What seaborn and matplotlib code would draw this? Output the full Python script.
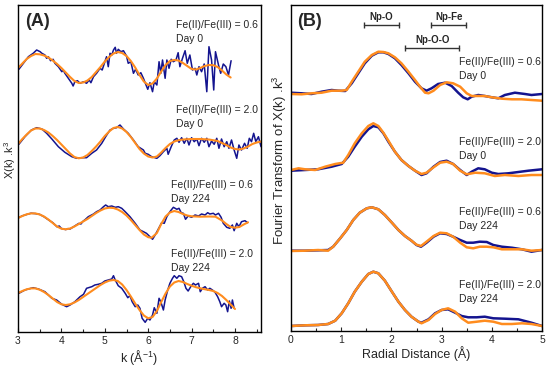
import numpy as np
import pandas as pd
import matplotlib
matplotlib.use("Agg")
import matplotlib.pyplot as plt
import seaborn as sns

sns.set_theme(style="ticks")
plt.rcParams['font.family'] = ['Liberation Sans', 'DejaVu Sans']
plt.rcParams['mathtext.fontset'] = 'custom'
plt.rcParams['mathtext.rm'] = 'Liberation Sans'

BLUE = "#14148f"
ORANGE = "#ff8c1e"

# ---------------- Panel A: k^3-weighted EXAFS (values relative to each trace baseline) ----
labels = ["Fe(II)/Fe(III) = 0.6\nDay 0", "Fe(II)/Fe(III) = 2.0\nDay 0",
          "Fe(II)/Fe(III) = 0.6\nDay 224", "Fe(II)/Fe(III) = 2.0\nDay 224"]
offsets_A = [264, 188, 114, 39]

# data (blue) traces
kA1 = [3.02, 3.24, 3.35, 3.43, 3.51, 3.55, 3.62, 3.66, 3.70, 3.75, 3.81, 3.85, 3.93, 4.01, 4.04, 4.08, 4.16, 4.24,
       4.27, 4.31, 4.37, 4.43, 4.51, 4.58, 4.64, 4.68, 4.74, 4.81, 4.89, 4.94, 4.99, 5.04, 5.08, 5.12, 5.16, 5.20,
       5.24, 5.27, 5.31, 5.37, 5.43, 5.50, 5.54, 5.60, 5.66, 5.71, 5.77, 5.83, 5.89, 5.95, 5.99, 6.04, 6.10, 6.14,
       6.20, 6.25, 6.29, 6.33, 6.39, 6.43, 6.48, 6.53, 6.58, 6.64, 6.69, 6.73, 6.79, 6.85, 6.90, 6.96, 7.02, 7.08,
       7.12, 7.17, 7.23, 7.29, 7.35, 7.40, 7.46, 7.51, 7.55, 7.62, 7.67, 7.73, 7.79, 7.85, 7.91]
yA1 = [-1.3, 11.3, 14.7, 18, 16.3, 14.7, 13, 9.7, 11.3, 7.3, 8.7, 4.7, 1.3, -3.7, -2, -5.3, -10.3, -15.3,
       -18, -13.7, -12.7, -15.3, -13.7, -15.3, -12, -14.7, -8.7, -5.3, -0.3, -2, 4.7, 11.3, 1.3, 14.7, 13, 18,
       20.7, 14.7, 18.7, 16.3, 17.3, 12, 4.7, 6.3, -5.3, -1.3, -7, -4.7, -10.3, -17, -21.3, -14.7, -23.7, -13.7,
       -17, 6.3, -5.3, 8, -10.3, 8, -0.3, 8.7, 6.3, 8, 15.3, 1.3, 9.7, 17.3, 4.7, 13, -2, -0.3,
       -7, 1.3, -3.7, 4, -23.7, 21.3, 8, -22, 16.3, 3, -5.3, 4, 1.3, -7, 7.3]

kA2 = [3.02, 3.16, 3.31, 3.43, 3.55, 3.66, 3.78, 3.93, 4.08, 4.24, 4.35, 4.47, 4.58, 4.70, 4.81, 4.93, 5.02, 5.12,
       5.20, 5.27, 5.35, 5.43, 5.54, 5.66, 5.77, 5.89, 5.93, 6.00, 6.08, 6.20, 6.27, 6.35, 6.43, 6.46, 6.53, 6.60,
       6.66, 6.71, 6.77, 6.83, 6.89, 6.94, 7.00, 7.06, 7.12, 7.17, 7.23, 7.29, 7.35, 7.40, 7.46, 7.52, 7.58, 7.63,
       7.69, 7.75, 7.81, 7.86, 7.92, 7.98, 8.04, 8.09, 8.15, 8.22, 8.28, 8.33, 8.38, 8.43, 8.48, 8.54, 8.60]
yA2 = [-0.3, 7.3, 14, 16.3, 15, 10.7, 5, -2.7, -8.3, -12.7, -14.3, -13.7, -13.7, -9.3, -6, 0.7, 7.3, 14,
       15.7, 16.3, 19, 15, 10.7, 4, -2.7, -6, -9.3, -10.3, -12.7, -14.3, -11.7, -7.7, -4.3, -10.3, -2.7, 4,
       5.7, 1.7, 6.3, 0.7, 5.7, -1, 6.3, 2.3, 5, -1.7, 5.7, 1.7, 5.7, -2.7, 3, -0.3, 5.7, -4.3,
       5, -2.7, 2.3, -4.3, 4, -6, -14.3, -1, -6, 0.7, -4.3, 5.7, 2.3, 10.7, 2.3, 7.3, -2.7]

kA3 = [3.0, 3.1, 3.2, 3.3, 3.4, 3.5, 3.6, 3.7, 3.8, 3.9, 3.95, 4.0, 4.1, 4.15, 4.2, 4.3, 4.4, 4.45, 4.5, 4.55,
       4.62, 4.74, 4.81, 4.89, 4.97, 5.02, 5.08, 5.16, 5.24, 5.31, 5.39, 5.47, 5.58, 5.70, 5.81, 5.89, 5.96, 6.04,
       6.10, 6.16, 6.23, 6.31, 6.37, 6.43, 6.50, 6.58, 6.66, 6.71, 6.76, 6.81, 6.86, 6.92, 7.00, 7.08, 7.16, 7.23,
       7.31, 7.37, 7.42, 7.50, 7.55, 7.62, 7.68, 7.73, 7.81, 7.88, 7.94, 7.98, 8.04, 8.09, 8.15, 8.23, 8.29]
yA3 = [0, 2.2, 3.5, 4.8, 4.4, 3.6, 1.2, -1.8, -4.6, -8.8, -8, -10.5, -11.6, -10.6, -11, -8.2, -5.4, -6, -3.2, -1.5,
       1.3, 4, 6.3, 8, 11.3, 13, 11.3, 12, 10.7, 11.3, 9.7, 6.3, 1.3, -5.3, -12, -13.7, -15.3, -18.7,
       -21.3, -17, -11.3, -4.7, -5.3, 1.3, 6.3, 10.7, 8.7, 9.7, 5.3, 4.7, -1.3, 2, 0.7, 3, 2, 4,
       3, 5.3, 4, 4.7, 3, 4.7, 0.7, -5.3, -9.3, -10.3, -7, -12.7, -5.3, -8.7, -3.7, -2.7, -4.7]

kA4 = [3.02, 3.16, 3.35, 3.47, 3.62, 3.78, 3.89, 4.01, 4.12, 4.20, 4.31, 4.43, 4.51, 4.58, 4.70, 4.77, 4.85, 4.93,
       5.00, 5.08, 5.16, 5.20, 5.24, 5.31, 5.39, 5.47, 5.53, 5.58, 5.63, 5.70, 5.76, 5.81, 5.86, 5.93, 5.99, 6.04,
       6.10, 6.14, 6.20, 6.25, 6.29, 6.35, 6.39, 6.45, 6.50, 6.56, 6.60, 6.66, 6.71, 6.77, 6.82, 6.87, 6.92, 6.98,
       7.04, 7.09, 7.16, 7.20, 7.25, 7.31, 7.37, 7.42, 7.48, 7.54, 7.60, 7.65, 7.69, 7.75, 7.79, 7.83, 7.87, 7.91,
       7.94, 7.98]
yA4 = [-0.3, 3, 5.3, 4, 1.3, -5.3, -7, -11.3, -13.7, -12, -8.7, -3.7, -1.3, 4.7, 6.3, 8, 8.7, 9.7,
       12, 13, 14, 17.3, 13, 7.3, 4.7, -0.3, -4.7, -2.7, -8.7, -13.7, -12, -15.3, -25.3, -29.3, -25.3, -27,
       -22, -14.7, -20.3, -5.3, -8.7, -17, -7, 3, 9.7, 14.7, 17.3, 14.7, 17.3, 16.3, 11.3, 4.7, 2, 6.3,
       9.7, 8, 9.7, 1.3, 4.7, 6.3, 3, 4.7, 3, 0.7, -3.7, -8.7, -13.7, -10.3, -12, -18.7, -8, -15.3,
       -7, -15.3]

# fit (orange) traces
kF1 = [3.0, 3.1, 3.2, 3.3, 3.4, 3.5, 3.6, 3.7, 3.8, 3.9, 4.0, 4.1, 4.2, 4.3, 4.4, 4.5, 4.6, 4.7, 4.8, 4.9, 5.0,
       5.1, 5.2, 5.3, 5.4, 5.5, 5.6, 5.7, 5.8, 5.9, 6.0, 6.1, 6.2, 6.3, 6.4, 6.5, 6.6, 6.7, 6.8, 6.9, 7.0, 7.1,
       7.2, 7.3, 7.4, 7.5, 7.6, 7.7, 7.8, 7.9]
yF1 = [0, 4.5, 9, 12, 14, 13.7, 12.5, 10.5, 7.5, 4, 0, -4.5, -9, -13, -15, -14.5, -12.5, -9, -4, 1, 6.5,
       11, 14.5, 16, 15, 12, 7, 0.5, -7, -13.5, -17, -15.5, -10.5, -3.5, 3, 7, 8, 7.5, 5, 2, -1, -1.5,
       0, 2, 3, 2.8, 1, -2.5, -6.5, -9.5]

kF2 = [3.0, 3.1, 3.2, 3.3, 3.4, 3.5, 3.6, 3.7, 3.8, 3.9, 4.0, 4.1, 4.2, 4.3, 4.4, 4.5, 4.6, 4.7, 4.8, 4.9, 5.0,
       5.1, 5.2, 5.3, 5.4, 5.5, 5.6, 5.7, 5.8, 5.9, 6.0, 6.1, 6.2, 6.3, 6.4, 6.5, 6.6, 6.7, 6.8, 7.0, 7.2, 7.4,
       7.6, 7.8, 7.9, 8.0, 8.1, 8.2, 8.3, 8.4, 8.5, 8.6]
yF2 = [0, 5, 9.5, 13.5, 15.5, 15.5, 14, 11.5, 8, 4, -0.5, -5, -9.5, -13, -14.3, -13.5, -11, -7, -2.5, 2.5, 8,
       12.5, 16, 17, 15.5, 12, 7, 1, -5, -9.5, -12.5, -13.5, -12.5, -8.5, -4, 0, 2.5, 3.8, 4.5, 5, 5, 4.5,
       3, -1, -3.5, -5, -5.5, -4.5, -2.5, 0, 1.5, 2.5]

kF3 = [3.0, 3.1, 3.2, 3.3, 3.4, 3.5, 3.6, 3.7, 3.8, 3.9, 4.0, 4.1, 4.2, 4.3, 4.4, 4.5, 4.6, 4.7, 4.8, 4.9, 5.0,
       5.1, 5.2, 5.3, 5.4, 5.5, 5.6, 5.7, 5.8, 5.9, 6.0, 6.08, 6.2, 6.3, 6.4, 6.5, 6.6, 6.7, 6.8, 6.9, 7.0, 7.2,
       7.4, 7.55, 7.7, 7.8, 7.9, 8.0, 8.1, 8.2, 8.3]
yF3 = [0, 2, 3.7, 4.6, 4.6, 3.5, 1.5, -1.5, -5, -8.5, -10.7, -11.3, -10.5, -8.5, -6, -3.5, -1, 2, 5, 7.5, 9.5,
       10.3, 10, 8.5, 6, 2.5, -2, -7, -12, -16.5, -19.2, -19.7, -15, -6, 1.5, 5.5, 7, 6, 4, 2.5, 1.7, 1.3,
       1.5, 1.3, -2.5, -6, -9, -9.7, -9, -6.5, -4.3]

kF4 = [3.0, 3.1, 3.2, 3.3, 3.4, 3.5, 3.6, 3.7, 3.8, 3.9, 4.0, 4.1, 4.2, 4.3, 4.4, 4.5, 4.6, 4.7, 4.8, 4.9, 5.0,
       5.1, 5.2, 5.3, 5.4, 5.5, 5.6, 5.7, 5.8, 5.9, 6.0, 6.1, 6.2, 6.3, 6.4, 6.5, 6.6, 6.7, 6.8, 6.9, 7.0, 7.1,
       7.2, 7.3, 7.4, 7.5, 7.6, 7.7, 7.8, 7.9, 8.0]
yF4 = [0, 2, 3.7, 4.6, 4.6, 3.3, 1, -2, -5.5, -9, -11.3, -12, -11.3, -9.5, -7, -4, -1, 2, 5, 8, 10.5,
       12.3, 13, 12, 8.5, 3, -3.5, -10.5, -17, -22.5, -25.3, -24, -18, -9, -0.5, 6.5, 10.5, 12, 11, 9, 7.3, 5.8,
       4.7, 3.8, 3, 2, 0, -3, -7, -11.5, -16]

# ---------------- Panel B: Fourier transform magnitudes ----------------
offsets_B = [237, 160, 81, 5]

rB1 = [0, 0.21, 0.41, 0.61, 0.81, 0.94, 1.08, 1.21, 1.34, 1.47, 1.61, 1.74, 1.84, 1.94, 2.07, 2.20, 2.34, 2.47,
       2.60, 2.70, 2.80, 2.93, 3.07, 3.20, 3.33, 3.43, 3.52, 3.60, 3.73, 3.86, 4.00, 4.13, 4.26, 4.46, 4.66, 4.79, 5.0]
bB1 = [1.3, 0.7, 0, 2.3, 4, 3.3, 3, 10.7, 20.7, 30.7, 38.3, 41.7, 41.7, 40, 35.7, 29, 20.7, 12.3,
       5.7, 3.3, 5.7, 10, 11.3, 8, 1.3, -3.3, -5.3, -2.7, -1, -2, -3.3, -4.3, -1, 1.3, 0, -1, 0]
rO1 = [0, 0.21, 0.41, 0.61, 0.81, 1.01, 1.11, 1.21, 1.34, 1.47, 1.61, 1.74, 1.84, 1.94, 2.07, 2.20, 2.34, 2.47,
       2.57, 2.67, 2.74, 2.84, 2.97, 3.10, 3.23, 3.37, 3.50, 3.60, 3.73, 3.86, 4.00, 4.20, 4.40, 4.59, 4.79, 5.0]
oB1 = [0, -0.3, 0.7, 1.3, 3.3, 3.3, 4, 12.3, 22.3, 32.3, 39, 42.3, 42, 40.7, 36.7, 30.7, 22.3, 14,
       7.3, 1.3, 0.7, 3.3, 9, 11.7, 10.7, 7.3, 0.7, -2, -2, -2, -3.3, -4.7, -5.3, -5.3, -6, -6.7]

rB2 = [0, 0.28, 0.54, 0.81, 1.01, 1.14, 1.27, 1.41, 1.54, 1.64, 1.74, 1.84, 1.94, 2.07, 2.20, 2.34, 2.47, 2.60,
       2.70, 2.84, 2.97, 3.10, 3.23, 3.37, 3.50, 3.60, 3.73, 3.86, 4.00, 4.13, 4.33, 4.53, 4.73, 5.0]
bB2 = [0.3, 1, 1.7, 4.3, 7, 14.3, 24.3, 34.3, 41.7, 45, 43.7, 37.7, 29.3, 19.3, 11, 5, 0.3, -4,
       -2.3, 4.3, 9, 10.3, 7, 1, -4, -0.7, 2.7, 1.7, -1.7, -3, -2.3, -1, 0.3, 1.7]
rO2 = [0, 0.15, 0.28, 0.48, 0.68, 0.88, 1.04, 1.14, 1.27, 1.41, 1.54, 1.64, 1.74, 1.84, 1.94, 2.07, 2.20, 2.34,
       2.47, 2.60, 2.70, 2.84, 2.97, 3.10, 3.23, 3.37, 3.50, 3.67, 3.86, 4.06, 4.26, 4.53, 4.79, 5.0]
oB2 = [1, 2.7, 1.7, 1, 4.3, 7, 8.3, 16, 27.7, 37.7, 45, 47.7, 45, 38.3, 30.3, 19.3, 11, 5,
       0.3, -3, -1.7, 3.7, 8.3, 9.3, 7, 0.3, -3.3, -1.7, -2.3, -5, -4, -5, -4, -4]

rB3 = [0, 0.28, 0.54, 0.74, 0.84, 0.98, 1.11, 1.24, 1.37, 1.51, 1.61, 1.74, 1.87, 2.01, 2.14, 2.27, 2.40, 2.50,
       2.59, 2.70, 2.84, 2.97, 3.10, 3.23, 3.37, 3.50, 3.63, 3.76, 3.90, 4.03, 4.20, 4.40, 4.60, 4.79, 5.0]
bB3 = [-0.7, -0.7, -0.3, 0, 3.3, 11.7, 20, 30, 37.3, 41.7, 42.7, 40.7, 35, 27.3, 20, 14, 9.3, 5,
       3.3, 7.3, 13.3, 16.7, 16, 13.3, 10, 7.3, 7.3, 8.3, 8, 5, 3.3, 2.3, 0.7, -1.7, 0]
rO3 = [0, 0.28, 0.54, 0.74, 0.84, 0.98, 1.11, 1.24, 1.37, 1.51, 1.61, 1.74, 1.87, 2.01, 2.14, 2.27, 2.40, 2.50,
       2.59, 2.70, 2.84, 2.97, 3.10, 3.23, 3.37, 3.50, 3.63, 3.76, 3.90, 4.03, 4.20, 4.40, 4.60, 4.79, 5.0]
oB3 = [-1, -0.7, 0, -0.7, 3.3, 11.7, 20, 30, 37.3, 41.7, 42.7, 40.7, 35, 27.3, 20, 14, 9.3, 5.3,
       4, 8.3, 14, 17.3, 16.7, 13.3, 7.3, 2.7, 1.7, 3.3, 3.3, 2.7, 0.7, 0.7, 0.7, -0.7, 0]

rB4 = [0, 0.28, 0.54, 0.74, 0.88, 1.01, 1.14, 1.27, 1.41, 1.54, 1.64, 1.74, 1.87, 2.01, 2.14, 2.27, 2.40, 2.54,
       2.60, 2.74, 2.87, 3.00, 3.13, 3.27, 3.40, 3.53, 3.70, 3.86, 4.03, 4.26, 4.53, 4.79, 5.0]
bB4 = [0, 0.7, 1, 2, 5.3, 12.7, 22.7, 34.3, 44.3, 52, 54.3, 52.7, 45.3, 34.3, 24.3, 16, 9.3, 4.3,
       3.3, 6.7, 12.7, 16, 16.7, 13.3, 10, 8.7, 8.7, 9.3, 7.7, 7.3, 6.7, 3.3, 0]
rO4 = [0, 0.28, 0.54, 0.74, 0.88, 1.01, 1.14, 1.27, 1.41, 1.54, 1.64, 1.74, 1.87, 2.01, 2.14, 2.27, 2.40, 2.54,
       2.60, 2.74, 2.87, 3.00, 3.13, 3.27, 3.40, 3.53, 3.70, 3.86, 4.03, 4.20, 4.40, 4.60, 4.79, 5.0]
oB4 = [0, 0.7, 1, 2, 5.3, 12.7, 22.7, 34.3, 44.3, 52, 54.3, 52.7, 45.3, 34.3, 24.3, 16, 9.3, 4.3,
       2.7, 6, 12, 16, 17.7, 14.3, 7.7, 3.3, 4.3, 5.3, 4.3, 2, 2, 2.7, 2, 0]

shell_names = ["Np-O", "Np-Fe", "Np-O-O"]
shell_ranges = [(1.45, 2.15), (2.79, 3.49), (2.28, 3.35)]
shell_levels = [306, 306, 283]

# ---------------- figure ----------------
fig = plt.figure(figsize=(5.5, 3.69), dpi=100)
axA = fig.add_axes([18/550, 1-332/369, 243/550, 327/369])
axB = fig.add_axes([291/550, 1-331/369, 251/550, 326/369])

data_A = [(kA1, yA1), (kA2, yA2), (kA3, yA3), (kA4, yA4)]
fit_A = [(kF1, yF1), (kF2, yF2), (kF3, yF3), (kF4, yF4)]
for (kd, yd), (kf, yf), off in zip(data_A, fit_A, offsets_A):
    sns.lineplot(x=kd, y=np.array(yd) + off, ax=axA, color=BLUE, lw=1.1, sort=False, estimator=None)
    sns.lineplot(x=kf, y=np.array(yf) + off, ax=axA, color=ORANGE, lw=1.5, sort=False, estimator=None)

blue_B = [(rB1, bB1), (rB2, bB2), (rB3, bB3), (rB4, bB4)]
orng_B = [(rO1, oB1), (rO2, oB2), (rO3, oB3), (rO4, oB4)]
for (rb, yb), (ro, yo), off in zip(blue_B, orng_B, offsets_B):
    sns.lineplot(x=rb, y=np.array(yb) + off, ax=axB, color=BLUE, lw=1.8, sort=False, estimator=None)
    sns.lineplot(x=ro, y=np.array(yo) + off, ax=axB, color=ORANGE, lw=1.8, sort=False, estimator=None)

axA.set_xlim(3, 3 + 243/43.4)
axA.set_ylim(0, 327)
axB.set_xlim(0, 5)
axB.set_ylim(0, 326)

for ax in (axA, axB):
    ax.set_yticks([])
    for s in ax.spines.values():
        s.set_linewidth(1.0)
        s.set_color('black')
        s.set_visible(True)
    ax.tick_params(axis='x', which='major', direction='in', length=3, width=0.8, labelsize=7.5, pad=3)
    ax.tick_params(axis='x', which='minor', direction='in', length=2, width=0.8)

axA.set_xticks([3, 4, 5, 6, 7, 8])
axA.set_xticks(np.arange(3.5, 8.6, 1.0), minor=True)
axB.set_xticks([0, 1, 2, 3, 4, 5])
axB.set_xticks(np.arange(0.5, 5.0, 1.0), minor=True)

axA.set_xlabel(r"k (Å$^{-1}$)", fontsize=9, labelpad=1)
axA.set_ylabel(r"X(k) .k$^{3}$", fontsize=8, labelpad=0)
axB.set_xlabel("Radial Distance (Å)", fontsize=9, labelpad=1)
axB.set_ylabel(r"Fourier Transform of X(k) .k$^{3}$", fontsize=9.5, labelpad=0)
axA.yaxis.set_label_coords(-0.002, 0.526)
axB.yaxis.set_label_coords(-0.006, 0.525)

axA.text(3.16, 310, "(A)", fontsize=13, fontweight='bold', va='center', ha='left')
axB.text(0.12, 310, "(B)", fontsize=13, fontweight='bold', va='center', ha='left')

# panel labels
labA_x = [6.64, 6.64, 6.53, 6.53]
labA_y = [312, 227, 152, 83]
for lab, x, y in zip(labels, labA_x, labA_y):
    axA.text(x, y, lab, fontsize=7.5, va='top', ha='left', linespacing=1.5)

labB_x = [3.35, 3.35, 3.35, 3.35]
labB_y = [274, 194, 124, 51]
for lab, x, y in zip(labels, labB_x, labB_y):
    axB.text(x, y, lab, fontsize=7.5, va='top', ha='left', linespacing=1.5)

for name, (r0, r1), lvl in zip(shell_names, shell_ranges, shell_levels):
    axB.plot([r0, r1], [lvl, lvl], color='#333333', lw=1.0, marker='|', ms=4, mew=1.0)
    axB.text((r0 + r1) / 2, lvl + 3, name, fontsize=7, fontweight='bold', ha='center', va='bottom')

fig.savefig("out.png", dpi=100)
